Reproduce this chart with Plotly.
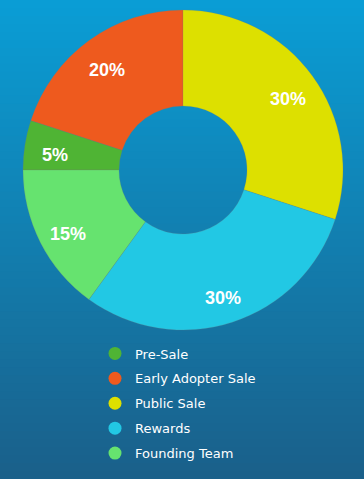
import math
import plotly.graph_objects as go

labels = ["Pre-Sale", "Early Adopter Sale", "Public Sale", "Rewards", "Founding Team"]
values = [5, 20, 30, 30, 15]
colors = ["#4fb434", "#ee5a1e", "#dde000", "#22c8e4", "#66e36f"]

W, H = 364, 479
top_rgb = (10, 157, 213)
bot_rgb = (26, 96, 138)

# pie geometry (pixels)
CX, CY, R = 183, 170, 160
ROTATION = 270          # first slice (Pre-Sale) starts at 9 o'clock, clockwise
LABEL_R = 0.81 * R

fig = go.Figure()

# background gradient
n = 60
shapes = []
for i in range(n):
    t = i / (n - 1)
    c = tuple(round(top_rgb[k] + (bot_rgb[k] - top_rgb[k]) * t) for k in range(3))
    shapes.append(dict(type="rect", xref="paper", yref="paper",
                       x0=0, x1=1, y0=1 - (i + 1) / n - 0.002, y1=1 - i / n,
                       fillcolor="rgb(%d,%d,%d)" % c, line=dict(width=0), layer="below"))

fig.add_trace(go.Pie(
    labels=labels, values=values, sort=False, direction="clockwise", rotation=ROTATION,
    hole=0.4,
    marker=dict(colors=colors, line=dict(color="rgba(120,120,120,0.35)", width=0.6)),
    textinfo="none",
    showlegend=False, hoverinfo="label+percent",
    domain=dict(x=[(CX - R) / W, (CX + R) / W], y=[1 - (CY + R) / H, 1 - (CY - R) / H]),
))

# percentage labels placed along each slice's mid-angle
total = sum(values)
annotations = []
cum = 0
for v in values:
    mid = math.radians(ROTATION + (cum + v / 2) / total * 360)
    cum += v
    px = CX + LABEL_R * math.sin(mid)
    py = CY - LABEL_R * math.cos(mid)
    annotations.append(dict(
        x=px / W, y=1 - py / H, xref="paper", yref="paper", showarrow=False,
        text="%d%%" % round(v / total * 100), xanchor="center", yanchor="middle",
        yshift=-5,
        font=dict(family="Liberation Sans", size=18, color="white", weight="bold")))

for i, (lab, col) in enumerate(zip(labels, colors)):
    fig.add_trace(go.Scatter(x=[None], y=[None], mode="markers", name=lab,
                             marker=dict(symbol="circle", size=13, color=col),
                             legendgroup=lab, showlegend=True))

fig.update_layout(
    width=W, height=H,
    margin=dict(l=0, r=0, t=0, b=0),
    paper_bgcolor="rgb(%d,%d,%d)" % top_rgb,
    plot_bgcolor="rgba(0,0,0,0)",
    shapes=shapes,
    annotations=annotations,
    xaxis=dict(visible=False), yaxis=dict(visible=False),
    legend=dict(x=95 / W, xanchor="left", y=1 - 338.5 / H, yanchor="top",
                font=dict(family="DejaVu Sans", size=13, color="white"),
                bgcolor="rgba(0,0,0,0)", tracegroupgap=5, traceorder="grouped",
                itemsizing="trace"),
)

fig.write_html("out.html", config={"displayModeBar": False},
               post_script="document.body.style.margin='0';document.body.style.overflow='hidden';")
